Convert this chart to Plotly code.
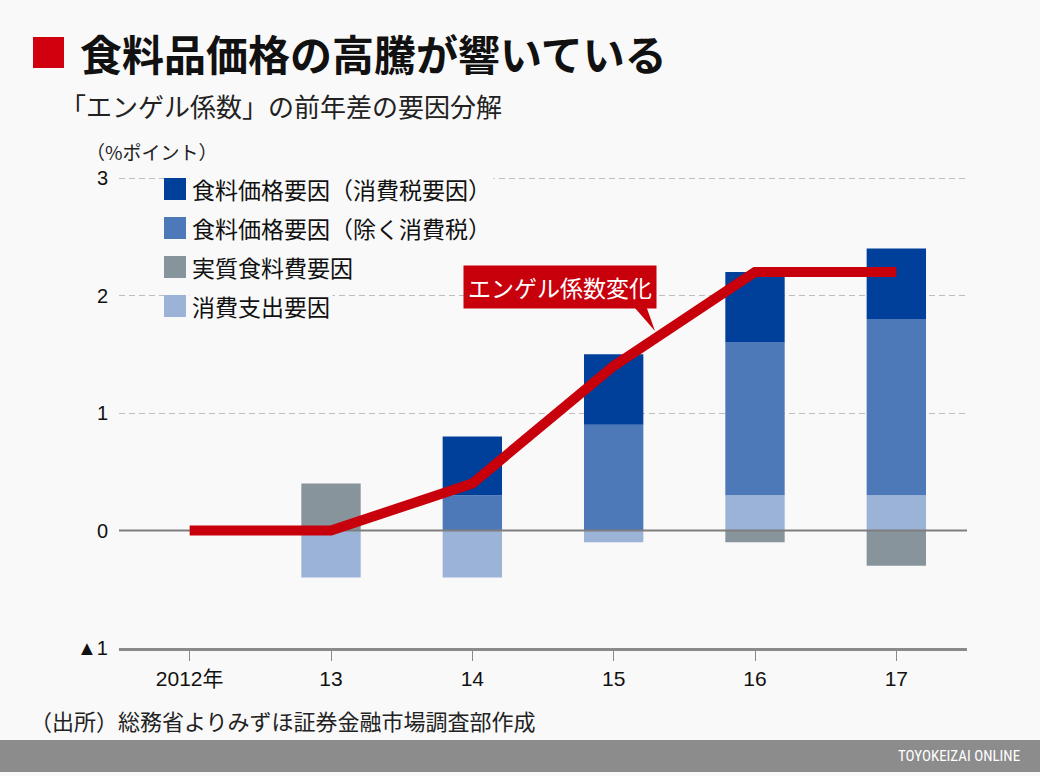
import plotly.graph_objects as go

# ---- data ----
categories = ["2012年", "13", "14", "15", "16", "17"]
consumption = [0, -0.4, -0.4, -0.1, 0.3, 0.3]      # 消費支出要因
real_food = [0, 0.4, 0, 0, -0.1, -0.3]             # 実質食料費要因
price_ex_tax = [0, 0, 0.3, 0.9, 1.3, 1.5]          # 食料価格要因（除く消費税）
price_tax = [0, 0, 0.5, 0.6, 0.6, 0.6]             # 食料価格要因（消費税要因）
engel = [0, 0, 0.4, 1.4, 2.2, 2.2]                 # エンゲル係数変化
y_ticks = [-1, 0, 1, 2, 3]
y_ticktext = ["▲1", "0", "1", "2", "3"]

names = {
    "tax": "食料価格要因（消費税要因）",
    "extax": "食料価格要因（除く消費税）",
    "real": "実質食料費要因",
    "cons": "消費支出要因",
}
colors = {"tax": "#00409a", "extax": "#4e79b8", "real": "#87949c", "cons": "#9ab3d6"}
RED = "#c8000b"
BG = "#f9f9f9"
JP = "Noto Sans CJK JP"
NUM = "Liberation Sans, Noto Sans CJK JP"

xpos = list(range(len(categories)))

W, H = 1040, 776
L, R, T, B = 119, 967, 174, 648
UNIT = 117.5  # px per 1 point
YMAX = 3 + (178 - T) / UNIT


def px(x):
    return (x - L) / (R - L)


def py(y):
    return (B - y) / (B - T)


fig = go.Figure()
for key, vals in [("cons", consumption), ("real", real_food), ("extax", price_ex_tax), ("tax", price_tax)]:
    fig.add_trace(go.Bar(x=xpos, y=vals, name=names[key], marker=dict(color=colors[key], line=dict(width=0)),
                         width=0.42, showlegend=False, hoverinfo="skip"))

# zero line (drawn above bars, below the red line)
fig.add_trace(go.Scatter(x=[-0.5, len(categories) - 0.5], y=[0, 0], mode="lines",
                         line=dict(color="#7f7f7f", width=2), showlegend=False, hoverinfo="skip"))
fig.add_trace(go.Scatter(x=xpos, y=engel, mode="lines", line=dict(color=RED, width=10),
                         showlegend=False, hoverinfo="skip"))

shapes = []
annotations = []

# title square
shapes.append(dict(type="rect", xref="paper", yref="paper", x0=px(33), x1=px(64), y0=py(68), y1=py(37),
                   fillcolor="#d0000e", line=dict(width=0)))
annotations.append(dict(xref="paper", yref="paper", x=px(78), y=py(52), xanchor="left", yanchor="middle",
                        text="<b>食料品価格の高騰が響いている</b>", showarrow=False,
                        font=dict(family=JP, size=42, color="#111111")))
annotations.append(dict(xref="paper", yref="paper", x=px(58), y=py(106), xanchor="left", yanchor="middle",
                        text="「エンゲル係数」の前年差の要因分解", showarrow=False,
                        font=dict(family=JP, size=26, color="#222222")))
annotations.append(dict(xref="paper", yref="paper", x=px(84), y=py(152), xanchor="left", yanchor="middle",
                        text="（%ポイント）", showarrow=False,
                        font=dict(family=JP, size=19, color="#222222")))

# legend
legend_rows = [("tax", 189), ("extax", 228), ("real", 267), ("cons", 306)]
for key, yc in legend_rows:
    shapes.append(dict(type="rect", xref="paper", yref="paper", x0=px(164), x1=px(186),
                       y0=py(yc + 11), y1=py(yc - 11), fillcolor=colors[key], line=dict(width=0)))
    annotations.append(dict(xref="paper", yref="paper", x=px(189), y=py(yc), xanchor="left", yanchor="middle",
                            text=names[key], showarrow=False, bgcolor=BG, borderpad=2,
                            font=dict(family=JP, size=23, color="#111111")))

# red callout
annotations.append(dict(xref="paper", yref="paper", x=px(560), y=py(287), xanchor="center", yanchor="middle",
                        text="エンゲル係数変化", showarrow=False, bgcolor=RED, borderpad=4,
                        font=dict(family=JP, size=23, color="white")))
shapes.append(dict(type="path", xref="paper", yref="paper",
                   path=f"M {px(628)} {py(300)} L {px(644)} {py(300)} L {px(655)} {py(331)} Z",
                   fillcolor=RED, line=dict(width=0)))

# source
annotations.append(dict(xref="paper", yref="paper", x=px(28), y=py(720), xanchor="left", yanchor="middle",
                        text="（出所）総務省よりみずほ証券金融市場調査部作成", showarrow=False,
                        font=dict(family=JP, size=22, color="#222222")))
# footer
shapes.append(dict(type="rect", xref="paper", yref="paper", x0=px(0), x1=px(W), y0=py(772), y1=py(740),
                   fillcolor="#8c8c8c", line=dict(width=0)))
annotations.append(dict(xref="paper", yref="paper", x=px(1022), y=py(756), xanchor="right", yanchor="middle",
                        text="TOYOKEIZAI ONLINE", showarrow=False,
                        font=dict(family="Roboto Condensed, Liberation Sans Narrow, Liberation Sans", size=15,
                                  color="white")))

fig.update_layout(
    width=W, height=H,
    margin=dict(l=L, r=W - R, t=T, b=H - B, pad=0),
    paper_bgcolor=BG, plot_bgcolor=BG,
    barmode="relative",
    shapes=shapes, annotations=annotations,
    xaxis=dict(range=[-0.5, len(categories) - 0.5], tickvals=xpos, ticktext=categories,
               showgrid=False, zeroline=False, showline=True, linecolor="#8a8a8a", linewidth=3,
               ticks="outside", ticklen=10, tickcolor="#8a8a8a", tickwidth=1,
               tickfont=dict(family=NUM, size=21, color="#111111"), fixedrange=True),
    yaxis=dict(range=[-1, YMAX], tickvals=y_ticks, ticktext=y_ticktext, showgrid=True,
               gridcolor="#bdbdbd", griddash="6px,4px", gridwidth=1, zeroline=False,
               showline=False, ticks="", ticklabelstandoff=10,
               tickfont=dict(family=NUM, size=20, color="#111111"), fixedrange=True),
)

fig.write_html("out.html")
